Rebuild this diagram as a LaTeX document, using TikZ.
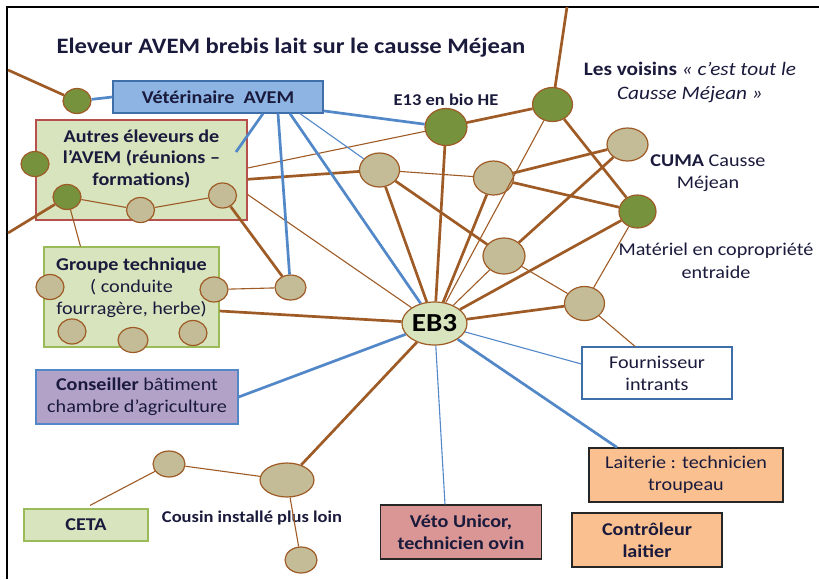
\documentclass[tikz,border=0pt]{standalone}
\usepackage{fontspec}
\setmainfont{Carlito}[FakeStretch=1.12]
\usepackage{tikz}
\usetikzlibrary{positioning,shapes.geometric}
\definecolor{encre}{HTML}{1A1A3C}
\definecolor{brun}{HTML}{9E5B26}
\definecolor{olive}{HTML}{76923C}
\definecolor{sable}{HTML}{C4BC96}
\definecolor{vertpale}{HTML}{D7E4BD}
\definecolor{vertbord}{HTML}{9BBB59}
\definecolor{rougebord}{HTML}{B5504D}
\definecolor{trait}{HTML}{5287C8}
\definecolor{bleuvet}{HTML}{8DB4E2}
\definecolor{bleubord}{HTML}{3F6FA8}
\definecolor{mauve}{HTML}{B3A2C7}
\definecolor{orange}{HTML}{FAC08F}
\definecolor{rose}{HTML}{D99694}
\definecolor{sombre}{HTML}{262626}

\begin{document}
\begin{tikzpicture}[x=1pt,y=-1pt,font=\fontsize{18}{22}\selectfont,
  boite/.style={rectangle,line width=1.2pt,inner sep=2pt,align=center,text=encre},
  pastille/.style={ellipse,draw=brun,line width=1.2pt,inner sep=0pt},
  vert/.style={pastille,fill=olive},
  beige/.style={pastille,fill=sable},
  petit/.style={minimum width=28,minimum height=25},
  moyen/.style={minimum width=40,minimum height=34},
  etiq/.style={text=encre,align=center,inner sep=0pt},
  lien/.style={brun,line width=2.7pt},
  lienfin/.style={brun,line width=1.1pt},
  bleu/.style={trait,line width=2.7pt},
  bleufin/.style={trait,line width=1.1pt}]
\useasboundingbox (0,0) rectangle (819,579);
\draw[line width=2pt] (7,579) -- (7,7) -- (819,7);

\node[etiq,font=\fontsize{22}{24}\selectfont\bfseries] (titre) at (291,48) {Eleveur AVEM brebis lait sur le causse Méjean};

% boites
\node[boite,draw=bleubord,fill=bleuvet,minimum width=210,minimum height=32,font=\fontsize{18}{22}\selectfont\bfseries] (vet) at (218,97) {Vétérinaire~~AVEM};
\node[boite,draw=rougebord,fill=vertpale,minimum width=211,minimum height=100] (autres) at (141.5,170) {};
\node[etiq,font=\fontsize{18}{21.5}\selectfont\bfseries,below=10pt of autres.north] (autrestxt) {Autres éleveurs de\\l’AVEM (réunions –\\formations)};
\node[boite,draw=vertbord,fill=vertpale,minimum width=175,minimum height=100] (groupe) at (131.5,297) {};
\node[etiq,font=\fontsize{18}{22}\selectfont,below=11pt of groupe.north] (groupetxt) {\textbf{Groupe technique}\\( conduite\\fourragère, herbe)};
\node[boite,draw=trait,fill=mauve,minimum width=202,minimum height=54] (conseiller) at (137,397) {\textbf{Conseiller} bâtiment\\chambre d’agriculture};
\node[boite,draw=vertbord,fill=vertpale,minimum width=124,minimum height=32,font=\fontsize{18}{22}\selectfont\bfseries] (ceta) at (86,525) {CETA};
\node[boite,draw=bleubord,fill=white,minimum width=150,minimum height=52] (fournisseur) at (657,373) {Fournisseur\\intrants};
\node[boite,draw=sombre,fill=orange,minimum width=194,minimum height=54] (laiterie) at (686,475) {Laiterie : technicien\\troupeau};
\node[boite,draw=sombre,fill=orange,minimum width=150,minimum height=54,font=\fontsize{18}{22}\selectfont\bfseries] (controleur) at (647,540) {Contrôleur\\laitier};
\node[boite,draw=sombre,fill=rose,minimum width=161,minimum height=54,font=\fontsize{18}{22}\selectfont\bfseries] (veto) at (461,532) {Véto Unicor,\\technicien ovin};

% pastilles
\node[vert,petit] (gv) at (77,101) {};
\node[vert,petit] (ga1) at (35,164) {};
\node[vert,petit] (ga2) at (67,197) {};
\node[beige,petit] (ta1) at (140.5,210) {};
\node[beige,petit] (ta2) at (222.5,195.5) {};
\node[beige,petit] (tg1) at (50,287) {};
\node[beige,petit] (tg2) at (214,289.5) {};
\node[beige,petit] (tg3) at (72,331.5) {};
\node[beige,petit,minimum width=30] (tg4) at (133,340) {};
\node[beige,petit] (tg5) at (193,333) {};
\node[beige,petit,minimum width=31] (tm) at (290.5,287.5) {};
\node[beige,moyen] (pa) at (379.5,170) {};
\node[beige,moyen] (pb) at (493.5,178) {};
\node[beige,moyen,minimum width=42,minimum height=36] (pc) at (504,256) {};
\node[beige,moyen] (pd) at (584.5,303.5) {};
\node[vert,moyen,minimum width=42,minimum height=37] (e13) at (446,127) {};
\node[vert,moyen] (voisins) at (552.5,104.5) {};
\node[beige,moyen,minimum width=41,minimum height=33] (cuma) at (627.5,144.5) {};
\node[vert,moyen,minimum width=37,minimum height=33] (materiel) at (637.5,211.5) {};
\node[beige,minimum width=54,minimum height=34] (cousin) at (287,480) {};
\node[beige,petit,minimum width=32,minimum height=26] (tc1) at (169,464) {};
\node[beige,petit,minimum width=32,minimum height=26] (tc2) at (301,560) {};
\node[pastille,fill=vertpale,minimum width=65,minimum height=43,font=\fontsize{26}{28}\selectfont\bfseries,text=black] (eb3) at (434.5,323.5) {EB3};

% etiquettes
\node[etiq,font=\fontsize{16.5}{18}\selectfont\bfseries] (e13txt) at (446,100) {E13 en bio HE};
\node[etiq,font=\fontsize{19}{24}\selectfont] (voisinstxt) at (690,82) {\textbf{Les voisins} \textit{« c’est tout le}\\\textit{Causse Méjean »}};
\node[etiq,font=\fontsize{18}{22}\selectfont] (cumatxt) at (708,173) {\textbf{CUMA} Causse\\Méjean};
\node[etiq,font=\fontsize{18}{23}\selectfont] (materieltxt) at (716,261) {Matériel en copropriété\\entraide};
\node[etiq,font=\fontsize{16.5}{18}\selectfont\bfseries] (cousintxt) at (252,518) {Cousin installé plus loin};

\coordinate (bord1) at (8,70);
\coordinate (bord2) at (8,233);
\coordinate (bord3) at (567,7);
\coordinate (dansautres) at (236,152);

% liens forts
\draw[lien] (bord1) -- (gv);
\draw[lien] (bord2) -- (ga2);
\draw[lien] (ta2) -- (tm);
\draw[lien] ([yshift=-14pt]groupe.east) -- (eb3);
\draw[lien] (autres.-5) -- (pa);
\draw[lien] (pa) -- (eb3);
\draw[lien] (pa) -- (pc);
\draw[lien] (e13) -- (eb3);
\draw[lien] (e13) -- (voisins);
\draw[lien] (voisins) -- (bord3);
\draw[lien] (voisins) -- (materiel);
\draw[lien] (pb) -- (cuma);
\draw[lien] (pb) -- (materiel);
\draw[lien] (pb) -- (eb3);
\draw[lien] (cuma) -- (pc);
\draw[lien] (materiel) -- (eb3);
\draw[lien] (eb3) -- (pd);
\draw[lien] (eb3) -- (cousin);

% liens faibles
\draw[lienfin] (ga2) -- (ta1) -- (ta2);
\draw[lienfin] (ga2) -- ([xshift=-51pt]groupe.north);
\draw[lienfin] (tg2) -- (tm);
\draw[lienfin] ([yshift=2pt]autres.east) -- (e13);
\draw[lienfin] (autres.-13) -- (eb3);
\draw[lienfin] (pa) -- (pb);
\draw[lienfin] (voisins) -- (eb3);
\draw[lienfin] (pc) -- (eb3);
\draw[lienfin] (pc) -- (pd);
\draw[lienfin] (materiel) -- (pd);
\draw[lienfin] (pd) -- ([xshift=-22pt]fournisseur.north);
\draw[lienfin] (tc1) -- (cousin);
\draw[lienfin] (tc1) -- ([xshift=4pt,yshift=3pt]ceta.north);
\draw[lienfin] (cousin) -- (tc2);

% conseillers
\draw[bleu] (gv) -- (vet.west);
\draw[bleu] ([xshift=45pt]vet.south) -- (dansautres);
\draw[bleu] ([xshift=60pt]vet.south) -- (tm);
\draw[bleu] ([xshift=72pt]vet.south) -- (eb3);
\draw[bleu] (vet) -- (e13);
\draw[bleu] (conseiller.east) -- (eb3);
\draw[bleu] (eb3) -- ([xshift=-69pt]laiterie.north);
\draw[bleufin] ([xshift=82pt]vet.south) -- (pa);
\draw[bleufin] (eb3) -- ([yshift=9pt]fournisseur.west);
\draw[bleufin] (eb3) -- ([xshift=-16pt]veto.north);
\end{tikzpicture}
\end{document}
